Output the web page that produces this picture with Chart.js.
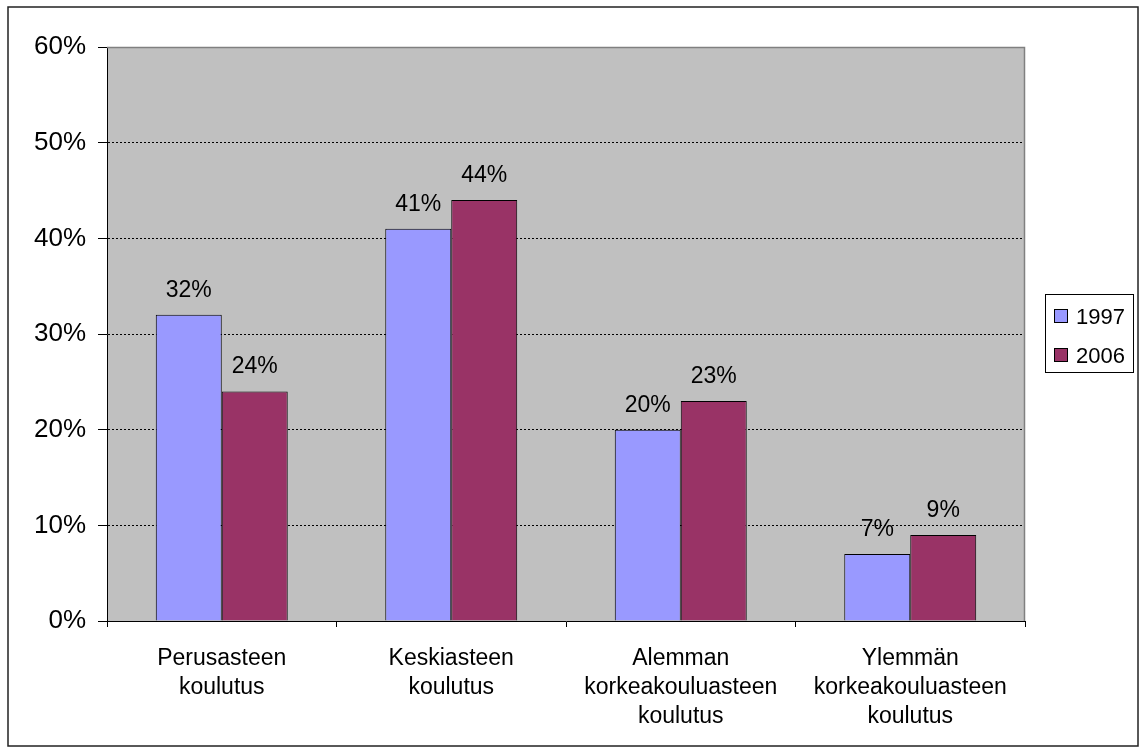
<!DOCTYPE html>
<html>
<head>
<meta charset="utf-8">
<script src="https://cdn.jsdelivr.net/npm/chart.js@4/dist/chart.umd.min.js"></script>
<style>
  html, body { margin: 0; padding: 0; background: #fff; }
  #wrap { width: 1146px; height: 756px; position: relative; }
</style>
</head>
<body>
<div id="wrap"><canvas id="koulutusChart" width="1146" height="756"></canvas></div>
<script>
var categories = [
  ['Perusasteen', 'koulutus'],
  ['Keskiasteen', 'koulutus'],
  ['Alemman', 'korkeakouluasteen', 'koulutus'],
  ['Ylemmän', 'korkeakouluasteen', 'koulutus']
];
var values1997 = [32, 41, 20, 7];
var values2006 = [24, 44, 23, 9];
var seriesLabels = ['1997', '2006'];
var yTicks = [0, 10, 20, 30, 40, 50, 60];

var FONT = "'Liberation Sans', Arial, sans-serif";

// white page, grey plot area and the outer frame
var backgroundPlugin = {
  id: 'backgroundPlugin',
  beforeDraw: function (chart) {
    var c = chart.ctx, a = chart.chartArea;
    c.save();
    c.fillStyle = '#ffffff';
    c.fillRect(0, 0, chart.width, chart.height);
    c.fillStyle = '#c0c0c0';
    c.fillRect(a.left, a.top, a.right - a.left, a.bottom - a.top);
    c.restore();
  },
  afterDraw: function (chart) {
    var c = chart.ctx, a = chart.chartArea;
    c.save();
    // top and right edge of plot area
    c.strokeStyle = '#808080';
    c.lineWidth = 1.5;
    c.beginPath();
    c.moveTo(a.left, a.top + 0.5);
    c.lineTo(a.right - 0.5, a.top + 0.5);
    c.lineTo(a.right - 0.5, a.bottom);
    c.stroke();
    // outer frame
    c.strokeStyle = '#222222';
    c.lineWidth = 1.5;
    c.strokeRect(8, 7, 1130, 739);
    c.restore();
  }
};

// value labels over the bars
var valueLabels = {
  id: 'valueLabels',
  afterDatasetsDraw: function (chart) {
    var c = chart.ctx;
    c.save();
    c.font = '23px ' + FONT;
    c.fillStyle = '#000';
    c.textAlign = 'center';
    c.textBaseline = 'alphabetic';
    chart.data.datasets.forEach(function (ds, i) {
      chart.getDatasetMeta(i).data.forEach(function (bar, j) {
        c.fillText(ds.data[j] + '%', bar.x, bar.y - 18);
      });
    });
    c.restore();
  }
};

// boxed legend on the right
var boxLegend = {
  id: 'boxLegend',
  afterDraw: function (chart) {
    var c = chart.ctx;
    var x = 1045, y = 294, w = 88, h = 78;
    c.save();
    c.fillStyle = '#fff';
    c.fillRect(x, y, w, h);
    c.strokeStyle = '#000';
    c.lineWidth = 1;
    c.strokeRect(x + 0.5, y + 0.5, w, h);
    c.font = '22px ' + FONT;
    c.textBaseline = 'alphabetic';
    chart.data.datasets.forEach(function (ds, i) {
      var sy = 309 + i * 39;
      c.fillStyle = ds.backgroundColor;
      c.fillRect(1054, sy, 14, 14);
      c.strokeStyle = '#000';
      c.strokeRect(1054.5, sy + 0.5, 13, 13);
      c.fillStyle = '#000';
      c.fillText(ds.label, 1076, sy + 15);
    });
    c.restore();
  }
};

var ctx = document.getElementById('koulutusChart').getContext('2d');
var koulutusChart = new Chart(ctx, {
  type: 'bar',
  data: {
    labels: categories,
    datasets: [{
      label: seriesLabels[0],
      data: values1997,
      backgroundColor: '#9999ff',
      borderColor: '#000000',
      borderWidth: 1
    }, {
      label: seriesLabels[1],
      data: values2006,
      backgroundColor: '#993366',
      borderColor: '#000000',
      borderWidth: 1
    }]
  },
  options: {
    responsive: false,
    animation: false,
    devicePixelRatio: 1,
    categoryPercentage: 0.575,
    barPercentage: 1,
    layout: {
      padding: { left: 0, right: 121, top: 47, bottom: 0 }
    },
    scales: {
      x: {
        grid: {
          display: true,
          offset: true,
          drawOnChartArea: false,
          drawTicks: true,
          tickLength: 6,
          tickColor: '#000'
        },
        border: { display: true, color: '#000', width: 1 },
        ticks: {
          color: '#000',
          font: { family: FONT, size: 23, lineHeight: 1.26 },
          padding: 17,
          maxRotation: 0,
          autoSkip: false
        },
        afterFit: function (scale) { scale.height = 135; }
      },
      y: {
        min: 0,
        max: 60,
        afterBuildTicks: function (scale) {
          scale.ticks = yTicks.map(function (v) { return { value: v }; });
        },
        grid: {
          color: function (c) {
            return (c.tick && (c.tick.value === 0 || c.tick.value === 60)) ? 'rgba(0,0,0,0)' : '#000';
          },
          lineWidth: 1,
          drawTicks: true,
          tickLength: 9,
          tickColor: '#000'
        },
        border: { display: true, color: '#000', width: 1, dash: [2, 2] },
        ticks: {
          color: '#000',
          font: { family: FONT, size: 26 },
          padding: 12,
          callback: function (v) { return v + '%'; }
        },
        afterFit: function (scale) { scale.width = 107; }
      }
    },
    plugins: {
      legend: { display: false },
      tooltip: { enabled: false }
    }
  },
  plugins: [backgroundPlugin, valueLabels, boxLegend]
});
</script>
</body>
</html>
